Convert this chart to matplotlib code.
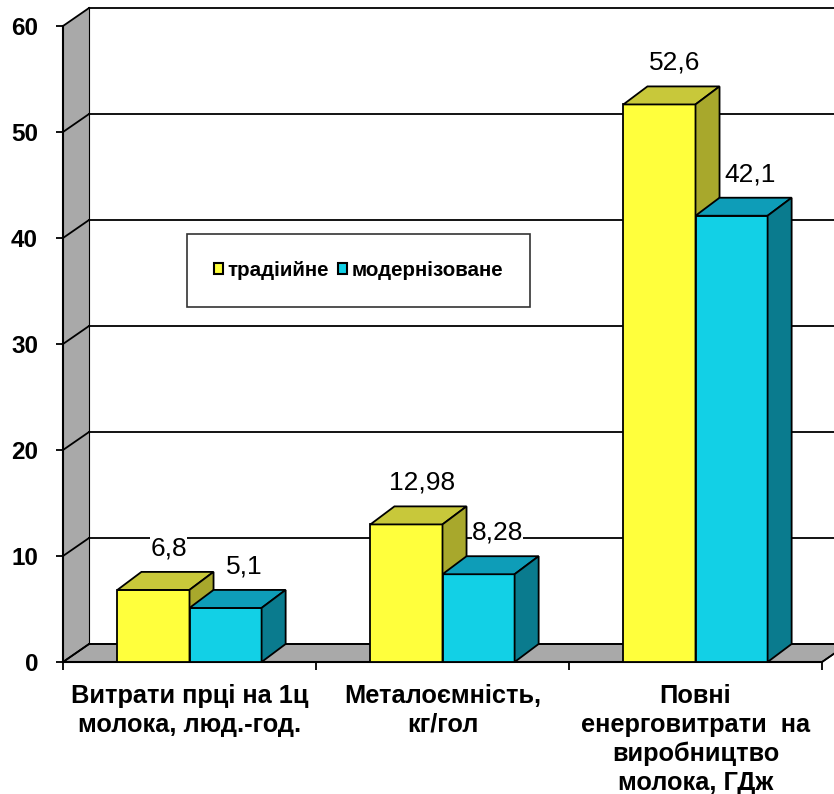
import matplotlib.pyplot as plt
from matplotlib.patches import Polygon, Patch

plt.rcParams['font.family'] = ['Liberation Sans', 'DejaVu Sans']

categories = ['Витрати прці на 1ц\nмолока, люд.-год.',
              'Металоємність,\nкг/гол',
              'Повні\nенерговитрати  на\nвиробництво\nмолока, ГДж']
traditional = [6.8, 12.98, 52.6]
modernized = [5.1, 8.28, 42.1]
series_names = ['традіийне', 'модернізоване']

# face colours: front, top, side
yellow = ('#ffff3c', '#c8c83a', '#a8a82c')
cyan = ('#12d0e6', '#0e9db8', '#0a7b8e')

fig = plt.figure(figsize=(8.34, 7.94), dpi=100)
ax = fig.add_axes([63 / 834, 132 / 794, 759 / 834, 636 / 794])
ax.set_xlim(0, 3)
ax.set_ylim(0, 60)

# depth offsets in data units
wdx, wdy = 0.103, 1.70   # walls / floor
bdx, bdy = 0.095, 1.70   # bars
bw = 0.285

wall_grey = '#a9a9a9'
# side wall
ax.add_patch(Polygon([(0, 0), (0, 60), (wdx, 60 + wdy), (wdx, wdy)],
                     closed=True, fc=wall_grey, ec='none', clip_on=False, zorder=1))
# floor
ax.add_patch(Polygon([(0, 0), (wdx, wdy), (3 + wdx, wdy), (3, 0)],
                     closed=True, fc=wall_grey, ec='black', lw=1.2, clip_on=False, zorder=1))
ax.plot([3, 3 + wdx], [0, wdy], color='black', lw=1.2, clip_on=False, zorder=2)

# gridlines on the back wall and side wall
for g in range(0, 70, 10):
    ax.plot([0, wdx], [g, g + wdy], color='black', lw=1.3, clip_on=False, zorder=2)
    ax.plot([wdx, 3.3], [g + wdy, g + wdy], color='black', lw=1.3, clip_on=False, zorder=2)
ax.plot([wdx, wdx], [wdy, 60 + wdy], color='black', lw=0.8, clip_on=False, zorder=2)


def draw_bar(x0, h, cols):
    front = Polygon([(x0, 0), (x0, h), (x0 + bw, h), (x0 + bw, 0)])
    top = Polygon([(x0, h), (x0 + bdx, h + bdy), (x0 + bw + bdx, h + bdy), (x0 + bw, h)])
    side = Polygon([(x0 + bw, 0), (x0 + bw, h), (x0 + bw + bdx, h + bdy), (x0 + bw + bdx, bdy)])
    for p, c in zip((front, top, side), cols):
        p.set_facecolor(c)
        p.set_edgecolor('black')
        p.set_linewidth(1.3)
        p.set_joinstyle('miter')
        p.set_clip_on(False)
        p.set_zorder(3)
        ax.add_patch(p)


for i in range(3):
    c = i + 0.5
    for x0, v, cols, off in ((c - bw, traditional[i], yellow, 0.06),
                             (c, modernized[i], cyan, 0.075)):
        draw_bar(x0, v, cols)
        ax.text(x0 + bw / 2 + off, v + bdy + 1.1, str(v).replace('.', ','),
                ha='center', va='bottom', fontsize=19, zorder=4,
                bbox=dict(fc='white', ec='none', pad=0))

# axes and ticks
for s in ('top', 'right'):
    ax.spines[s].set_visible(False)
ax.spines['left'].set_linewidth(1.5)
ax.spines['bottom'].set_linewidth(1.5)
ax.spines['left'].set_zorder(2)
ax.spines['bottom'].set_zorder(2)
ax.set_yticks(range(0, 70, 10))
ax.tick_params(axis='y', length=5, width=1.3, pad=13, labelsize=17.5)
for t in ax.get_yticklabels():
    t.set_fontweight('bold')
ax.set_xticks([0.5, 1.5, 2.5])
ax.set_xticklabels(categories, fontsize=18.3, fontweight='bold', linespacing=1.25)
ax.set_xticks([0, 1, 2, 3], minor=True)
ax.tick_params(axis='x', which='major', length=0, pad=16)
ax.tick_params(axis='x', which='minor', length=6, width=1.3)

handles = [Patch(fc=yellow[0], ec='black', lw=1.5), Patch(fc=cyan[0], ec='black', lw=1.5)]
leg = fig.legend(handles, series_names, loc='center', bbox_to_anchor=(0.4298, 0.6593),
                 ncol=2, frameon=True, fancybox=False, edgecolor='black',
                 prop={'weight': 'bold', 'size': 14.8}, handlelength=0.45, handleheight=0.45,
                 handletextpad=0.2, columnspacing=0.45, borderpad=1.3, borderaxespad=0)
leg.get_frame().set_linewidth(1.2)

fig.savefig('out.png', dpi=100)
